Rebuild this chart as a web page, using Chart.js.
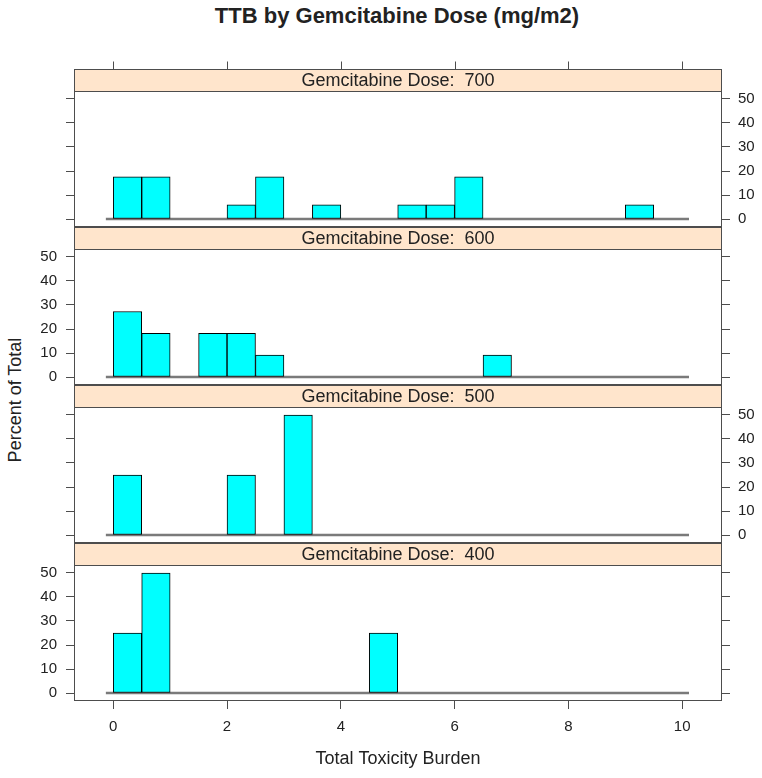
<!DOCTYPE html>
<html>
<head>
<meta charset="utf-8">
<script src="https://cdn.jsdelivr.net/npm/chart.js@4.4.0/dist/chart.umd.min.js"></script>
<style>
  body { margin: 0; background: #fff; }
  #page { position: relative; width: 762px; height: 778px; overflow: hidden; }
  canvas { position: absolute; left: 0; }
  .txt { position: absolute; font-family: 'Liberation Sans', Arial, sans-serif; color: #222; white-space: nowrap; }
  #title { left: 397px; top: 5px; transform: translateX(-50%); font-size: 22px; line-height: 22px; font-weight: bold; }
  #ylab { left: 15px; top: 400px; font-size: 18px; line-height: 18px; transform: translate(-50%, -50%) rotate(-90deg); }
</style>
</head>
<body>
<div id="page">
  <div class="txt" id="title">TTB by Gemcitabine Dose (mg/m2)</div>
  <div class="txt" id="ylab">Percent of Total</div>
  <canvas id="p0" width="762" height="188"></canvas>
  <canvas id="p1" width="762" height="188"></canvas>
  <canvas id="p2" width="762" height="188"></canvas>
  <canvas id="p3" width="762" height="245"></canvas>
</div>
<script>
// Histogram bins of Total Toxicity Burden (width 0.5), values in percent of total
var binMids = [0.25, 0.75, 1.25, 1.75, 2.25, 2.75, 3.25, 3.75, 4.25, 4.75,
               5.25, 5.75, 6.25, 6.75, 7.25, 7.75, 8.25, 8.75, 9.25, 9.75];
var doses = ['700', '600', '500', '400'];
var pct700 = [17.6, 17.6, 0, 0, 5.9, 17.6, 0, 5.9, 0, 0, 5.9, 5.9, 17.6, 0, 0, 0, 0, 0, 5.9, 0];
var pct600 = [27.3, 18.2, 0, 18.2, 18.2, 9.1, 0, 0, 0, 0, 0, 0, 0, 9.1, 0, 0, 0, 0, 0, 0];
var pct500 = [25, 0, 0, 0, 25, 0, 50, 0, 0, 0, 0, 0, 0, 0, 0, 0, 0, 0, 0, 0];
var pct400 = [25, 50, 0, 0, 0, 0, 0, 0, 0, 25, 0, 0, 0, 0, 0, 0, 0, 0, 0, 0];
var panelValues = [pct700, pct600, pct500, pct400];
var xTicks = [0, 2, 4, 6, 8, 10];
var yTicks = [0, 10, 20, 30, 40, 50];
var baselineX = [-0.13, 10.12];

var fontFamily = "'Liberation Sans', Arial, sans-serif";
var textColor = '#222';
var lineColor = '#4d4d4d';
var stripH = 22;

// strip, panel frame and top ticks
var latticePlugin = {
    id: 'lattice',
    afterDraw: function(chart, args, opts) {
        var ctx = chart.ctx;
        var a = chart.chartArea;
        var l = Math.round(a.left) + 0.5, r = Math.round(a.right) - 0.5;
        var t = Math.round(a.top) + 0.5, b = Math.round(a.bottom) - 0.5;
        ctx.save();
        ctx.fillStyle = '#FFE5CC';
        ctx.fillRect(l, t - stripH, r - l, stripH);
        ctx.strokeStyle = lineColor;
        ctx.lineWidth = 1;
        ctx.strokeRect(l, t - stripH, r - l, stripH);
        ctx.strokeRect(l, t, r - l, b - t);
        ctx.fillStyle = textColor;
        ctx.font = '18px ' + fontFamily;
        ctx.textAlign = 'center';
        ctx.textBaseline = 'middle';
        ctx.fillText(opts.label, (l + r) / 2, t - stripH / 2 + 1);
        if (opts.topTicks) {
            var xs = chart.scales.x;
            ctx.beginPath();
            xTicks.forEach(function(v) {
                var x = Math.round(xs.getPixelForValue(v)) + 0.5;
                ctx.moveTo(x, t - stripH);
                ctx.lineTo(x, t - stripH - 8);
            });
            ctx.stroke();
        }
        ctx.restore();
    }
};

function setTicks(list) {
    return function(scale) {
        scale.ticks = list.map(function(v) { return { value: v }; });
    };
}

function yAxis(position, showLabels) {
    return {
        type: 'linear',
        position: position,
        min: -3.33,
        max: 53.33,
        afterBuildTicks: setTicks(yTicks),
        afterFit: function(scale) { scale.width = position === 'left' ? 74 : 40; },
        grid: { drawOnChartArea: false, drawTicks: true, tickLength: 8, color: lineColor },
        border: { display: false },
        ticks: {
            padding: position === 'left' ? 9 : 8,
            color: textColor,
            font: { family: fontFamily, size: 15 },
            callback: function(v) { return showLabels ? v : ''; }
        }
    };
}

function makePanel(i) {
    var isBottom = i === doses.length - 1;
    var canvas = document.getElementById('p' + i);
    canvas.style.top = (59 + 158 * i) + 'px';
    var vals = panelValues[i];

    new Chart(canvas.getContext('2d'), {
        type: 'bar',
        data: {
            datasets: [{
                type: 'bar',
                data: binMids.map(function(x, k) { return { x: x, y: vals[k] }; }),
                backgroundColor: '#00FFFF',
                borderColor: '#000000',
                borderWidth: 1,
                borderSkipped: false,
                barPercentage: 1,
                categoryPercentage: 1,
                order: 0
            }, {
                type: 'line',
                data: [{ x: baselineX[0], y: 0 }, { x: baselineX[1], y: 0 }],
                borderColor: '#7a7a7a',
                borderWidth: 2.5,
                pointRadius: 0,
                order: 1
            }]
        },
        options: {
            responsive: false,
            animation: false,
            devicePixelRatio: 1,
            layout: { padding: { top: 32, bottom: isBottom ? 0 : 20, left: 0, right: 0 } },
            plugins: {
                legend: { display: false },
                tooltip: { enabled: false },
                lattice: { label: 'Gemcitabine Dose:  ' + doses[i], topTicks: i === 0 }
            },
            scales: {
                x: {
                    type: 'linear',
                    position: 'bottom',
                    display: isBottom,
                    min: -0.69,
                    max: 10.7,
                    offset: false,
                    afterBuildTicks: setTicks(xTicks),
                    afterFit: function(scale) { if (isBottom) scale.height = 77; },
                    grid: { drawOnChartArea: false, drawTicks: true, tickLength: 8, color: lineColor, offset: false },
                    border: { display: false },
                    ticks: {
                        padding: 9,
                        color: textColor,
                        maxRotation: 0,
                        font: { family: fontFamily, size: 15 }
                    },
                    title: {
                        display: true,
                        text: 'Total Toxicity Burden',
                        color: textColor,
                        font: { family: fontFamily, size: 18 },
                        padding: { top: 4, bottom: 8 }
                    }
                },
                y: yAxis('left', i % 2 === 1),
                y2: yAxis('right', i % 2 === 0)
            }
        },
        plugins: [latticePlugin]
    });
}

for (var i = 0; i < doses.length; i++) {
    makePanel(i);
}
</script>
</body>
</html>
